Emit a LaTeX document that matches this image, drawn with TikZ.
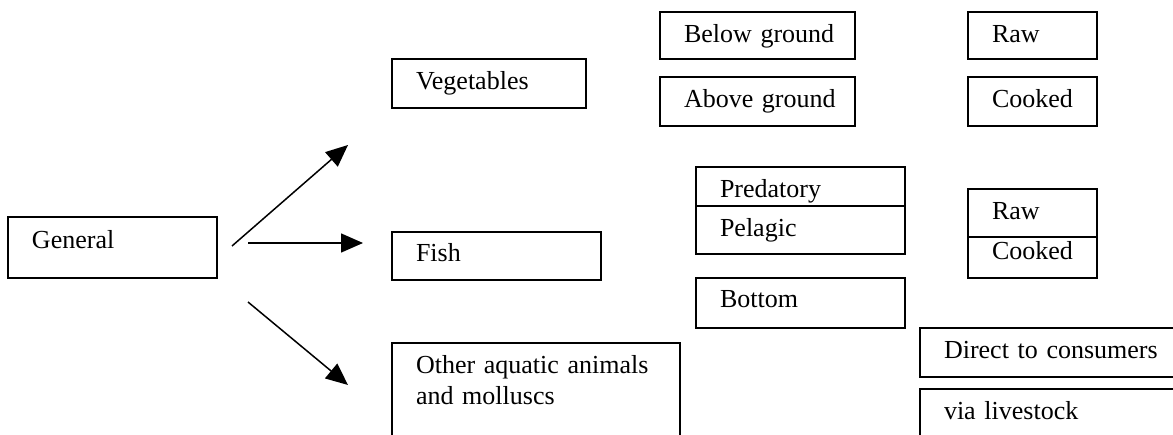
\documentclass[tikz,border=0pt]{standalone}
\usepackage{fontspec}
\setmainfont{Liberation Serif}
\usetikzlibrary{arrows.meta}

\begin{document}
\begin{tikzpicture}[x=1pt, y=-1pt,
    box/.style={draw, fill=white, line width=1.8pt, anchor=north west, outer sep=0pt,
                inner xsep=0pt, inner ysep=0pt, align=left,
                font=\fontsize{26}{31}\selectfont,
                execute at begin node={\leftskip=24pt\relax}},
    flow/.style={-{Triangle[length=22pt, width=19pt]}, line width=1.5pt}]
        \useasboundingbox (0,0) rectangle (1173,435);
        \clip (0,0) rectangle (1173,435);

        % first level
        \node[box, text width=209pt, text height=32pt, text depth=29pt] (general) at (8,217) {General};
        \node[box, text width=194pt, text height=31pt, text depth=18pt] (veg) at (392,59) {Vegetables};
        \node[box, text width=209pt, text height=30pt, text depth=18pt] (fish) at (392,232) {Fish};
        \node[box, text width=288pt, text height=31pt, text depth=86pt] (other) at (392,343) {Other aquatic animals\\and molluscs};

        % vegetables
        \node[box, text width=195pt, text height=31pt, text depth=16pt] (below) at (660,12) {Below ground};
        \node[box, text width=195pt, text height=31pt, text depth=18pt] (above) at (660,77) {Above ground};
        \node[box, text width=129pt, text height=31pt, text depth=16pt] (rawveg) at (968,12) {Raw};
        \node[box, text width=129pt, text height=31pt, text depth=18pt] (cookveg) at (968,77) {Cooked};

        % fish
        \node[box, text width=209pt, text height=31pt, text depth=8pt] (pred) at (696,167) {Predatory};
        \node[box, text width=209pt, text height=31pt, text depth=17pt] (pel) at (696,206) {Pelagic};
        \node[box, text width=209pt, text height=30pt, text depth=20pt] (bottom) at (696,278) {Bottom};
        \node[box, text width=129pt, text height=31pt, text depth=17pt] (rawfish) at (968,189) {Raw};
        \node[box, text width=129pt, text height=23pt, text depth=18pt] (cookfish) at (968,237) {Cooked};

        % other aquatic animals
        \node[box, text width=260pt, text height=31pt, text depth=18pt] (direct) at (920,328) {Direct to consumers};
        \node[box, text width=260pt, text height=31pt, text depth=40pt] (stock) at (920,389) {via livestock};

        % arrows out of general
        \coordinate (g1) at (232,246);
        \coordinate (g2) at (248,243);
        \coordinate (g3) at (248,302);
        \coordinate (t1) at (348,145);
        \coordinate (t2) at (363,243);
        \coordinate (t3) at (348,385);
        \draw[flow] (g1) -- (t1);
        \draw[flow] (g2) -- (t2);
        \draw[flow] (g3) -- (t3);
\end{tikzpicture}
\end{document}
